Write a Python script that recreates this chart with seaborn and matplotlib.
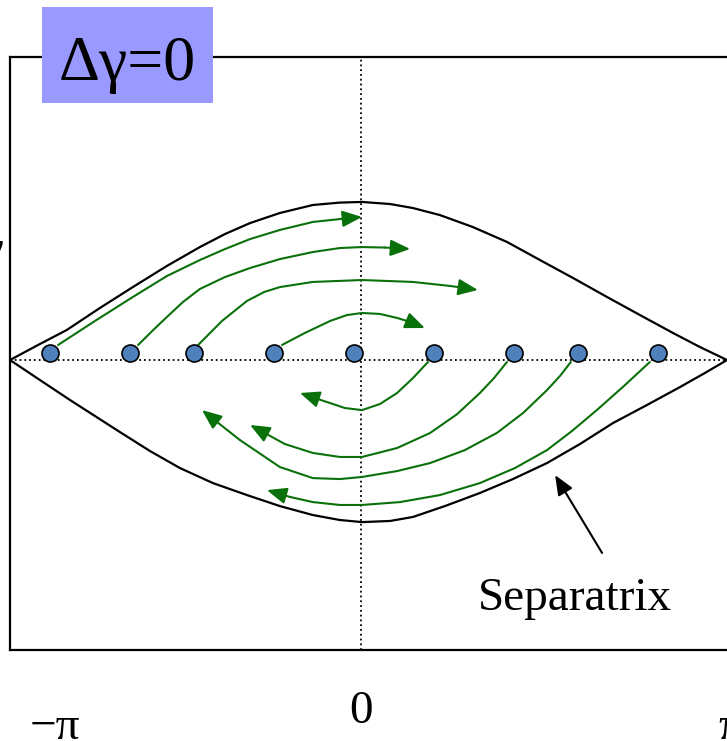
import matplotlib.pyplot as plt
import matplotlib.patches as mpatches
import seaborn as sns

# phase axis: -10 .. 10 stands for -pi .. pi, momentum axis in arbitrary units
sep_x = [-10.0, -9.20, -8.38, -7.44, -6.50, -5.53, -4.59, -3.87, -3.16, -2.31, -1.37, -0.60, 0.03,
         0.83, 1.48, 2.25, 3.19, 4.16, 5.10, 6.04, 7.01, 7.95, 8.89, 9.66, 10.43]
sep_upper = [0.0, 0.94, 1.88, 3.25, 4.56, 5.88, 7.06, 7.88, 8.56, 9.19, 9.69, 9.84, 9.88,
             9.75, 9.5, 9.06, 8.31, 7.38, 6.25, 5.13, 3.94, 2.81, 1.69, 0.81, 0.0]
sep_low_x = [-10.0, -9.23, -8.29, -6.87, -6.01, -5.16, -4.22, -3.25, -2.31, -1.37, -0.60, 0.03,
             0.83, 1.48, 2.39, 3.39, 4.33, 5.30, 6.24, 7.18, 8.15, 9.09, 9.80, 10.43]
sep_lower = [0.0, -1.13, -2.5, -4.5, -5.69, -6.75, -7.69, -8.44, -9.13, -9.69, -10.0, -10.13,
             -10.06, -9.81, -9.13, -8.31, -7.44, -6.44, -5.25, -3.94, -2.81, -1.69, -0.81, 0.0]

particle_x = [-8.86, -6.58, -4.76, -2.48, -0.20, 2.08, 4.36, 6.18, 8.46]
particle_y = [0.44] * 9

# particle trajectories, last point is the arrow tip
traj_x = [
    [-8.63, -7.58, -6.50, -5.53, -4.59, -3.87, -3.16, -2.31, -1.37, -0.60, 0.03],
    [-6.35, -5.95, -5.53, -5.07, -4.59, -3.87, -3.16, -2.31, -1.37, -0.60, 0.03, 0.68, 1.40],
    [-4.64, -3.96, -3.25, -2.76, -2.31, -1.37, 0.03, 1.48, 2.54, 3.33],
    [-2.25, -1.60, -0.88, -0.40, 0.03, 0.54, 1.03, 1.40, 1.82],
    [1.91, 1.48, 1.03, 0.54, 0.03, -0.46, -0.88, -1.31, -1.74],
    [4.16, 3.79, 3.39, 2.74, 1.97, 1.03, 0.03, -0.60, -1.37, -2.17, -3.16],
    [5.98, 5.67, 5.30, 4.62, 3.87, 2.96, 1.97, 1.03, 0.03, -0.60, -1.37, -2.31, -3.45, -4.53],
    [8.23, 7.49, 6.72, 6.01, 5.30, 4.39, 3.39, 2.25, 1.11, 0.03, -0.60, -1.37, -2.02, -2.68],
]
traj_y = [
    [0.94, 2.44, 3.94, 5.25, 6.25, 6.94, 7.56, 8.13, 8.63, 8.81, 8.94],
    [0.94, 1.81, 2.69, 3.63, 4.44, 5.19, 5.75, 6.31, 6.75, 7.0, 7.06, 7.03, 6.94],
    [0.94, 2.44, 3.69, 4.25, 4.56, 4.88, 5.0, 4.88, 4.63, 4.38],
    [0.94, 1.69, 2.44, 2.81, 2.94, 2.88, 2.63, 2.38, 2.0],
    [-0.125, -1.13, -2.06, -2.75, -3.13, -3.0, -2.69, -2.38, -2.06],
    [-0.125, -1.13, -2.06, -3.38, -4.56, -5.5, -6.06, -6.06, -5.81, -5.25, -4.06],
    [-0.125, -1.0, -1.88, -3.31, -4.56, -5.63, -6.44, -6.94, -7.31, -7.44, -7.38, -6.69, -5.0, -3.13],
    [-0.125, -1.63, -3.13, -4.44, -5.63, -6.75, -7.69, -8.44, -8.88, -9.06, -9.06, -8.88, -8.56, -8.13],
]

green = '#0a700a'

sns.set_theme(style='white')
plt.rcParams['font.family'] = ['Liberation Serif', 'DejaVu Serif']
plt.rcParams['text.color'] = 'black'

fig = plt.figure(figsize=(7.27, 7.41), dpi=100)
ax = fig.add_axes([10 / 727, 91 / 741, 723 / 727, 593 / 741])

ax.axhline(0, color='black', lw=1.3, ls=':', zorder=1)
ax.axvline(0, color='black', lw=1.3, ls=':', zorder=1)

sns.lineplot(x=sep_x, y=sep_upper, ax=ax, color='black', lw=1.6, sort=False, zorder=2)
sns.lineplot(x=sep_low_x, y=sep_lower, ax=ax, color='black', lw=1.6, sort=False, zorder=2)

for xs, ys in zip(traj_x, traj_y):
    sns.lineplot(x=xs[:-1], y=ys[:-1], ax=ax, color=green, lw=1.5, sort=False, zorder=3)
    ax.annotate('', xy=(xs[-1], ys[-1]), xytext=(xs[-2], ys[-2]),
                arrowprops=dict(arrowstyle='-|>,head_length=0.6,head_width=0.25',
                                mutation_scale=20, color=green, lw=1.5,
                                shrinkA=0, shrinkB=0), zorder=3)
for line in ax.lines:
    line.set_solid_joinstyle('round')

sns.scatterplot(x=particle_x, y=particle_y, ax=ax, s=150, color='#4f81bd',
                edgecolor='black', linewidth=1.2, zorder=5)

ax.annotate('', xy=(5.53, -7.19), xytext=(6.87, -12.06),
            arrowprops=dict(arrowstyle='-|>,head_length=0.6,head_width=0.25',
                            mutation_scale=20, color='black', lw=1.5,
                            shrinkA=0, shrinkB=0))
ax.text(3.33, -15.6, 'Separatrix', fontsize=34, ha='left', va='baseline')

ax.set_xlim(-10, 10.6)
ax.set_ylim(-18.125, 18.94)
ax.set_xticks([])
ax.set_yticks([])
for s in ax.spines.values():
    s.set_color('black')
    s.set_linewidth(1.6)

# title box
fig.patches.append(mpatches.Rectangle((42 / 727, 1 - 103 / 741), 171 / 727, 96 / 741,
                                      transform=fig.transFigure, facecolor='#9999ff',
                                      edgecolor='none', zorder=4))
fig.text(127.5 / 727, 1 - 80 / 741, 'Δγ=0', fontsize=46, ha='center', va='baseline', zorder=5)

# axis labels
fig.text(30 / 727, 1 - 739 / 741, '−π', fontsize=34, ha='left', va='baseline')
fig.text(361 / 727, 1 - 723 / 741, '0', fontsize=34, ha='center', va='baseline')
fig.text(718 / 727, 1 - 739 / 741, 'π', fontsize=34, ha='left', va='baseline')
fig.text(3 / 727, 1 - 262 / 741, 'γ', fontsize=34, ha='right', va='baseline')

fig.savefig('out.png', dpi=100)
